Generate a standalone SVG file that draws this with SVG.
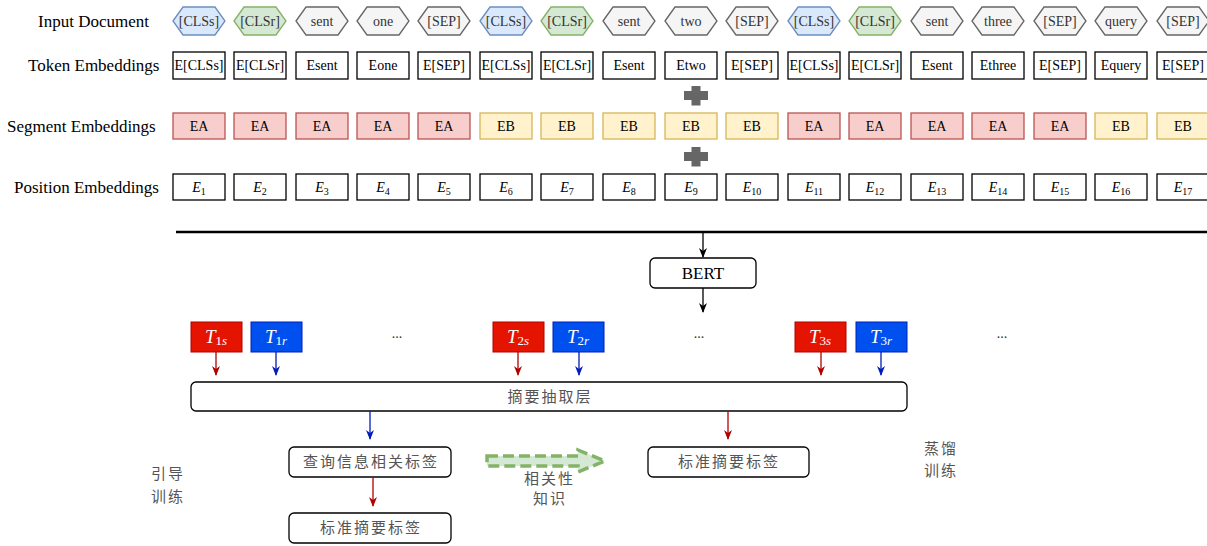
<svg xmlns="http://www.w3.org/2000/svg" width="1207" height="546" viewBox="0 0 1207 546">
<style>
.lbl{font-family:"Liberation Serif","Times New Roman",serif;font-size:17px;fill:#000}
.tx{font-family:"Liberation Serif","Times New Roman",serif;font-size:14px;fill:#000;text-anchor:middle}
.hx{font-family:"Liberation Serif","Times New Roman",serif;font-size:14px;fill:#333;text-anchor:middle}
.hs{fill:#dae8fc;stroke:#6c8ebf;stroke-width:1.3}
.hr{fill:#d5e8d4;stroke:#82b366;stroke-width:1.3}
.hg{fill:#f5f5f5;stroke:#666;stroke-width:1.3}
.tk{fill:#fff;stroke:#000;stroke-width:1.3}
.ea{fill:#f8cecc;stroke:#b85450;stroke-width:1.3}
.eb{fill:#fff2cc;stroke:#d6b656;stroke-width:1.3}
.rb{fill:#fff;stroke:#000;stroke-width:1.3}
.ts{fill:#e51400;stroke:#b20000;stroke-width:1}
.tr{fill:#0050ef;stroke:#001dbc;stroke-width:1}
.tt{font-family:"Liberation Serif","Times New Roman",serif;font-size:19px;fill:#fff;text-anchor:middle;font-style:italic}
.cn{font-family:"Noto Sans CJK SC","Noto Sans",sans-serif;font-size:15px;fill:#555;letter-spacing:2px}
.dots{font-family:"Liberation Serif",serif;font-size:14px;fill:#333;text-anchor:middle}
.plus{fill:#666}
</style>
<defs>
<marker id="ak" viewBox="0 0 10 10" refX="9" refY="5" markerWidth="10" markerHeight="10" markerUnits="userSpaceOnUse" orient="auto"><path d="M0,1 L10,5 L0,9 L3,5 Z" fill="#000"/></marker>
<marker id="ar" viewBox="0 0 10 10" refX="9" refY="5" markerWidth="10" markerHeight="10" markerUnits="userSpaceOnUse" orient="auto"><path d="M0,1 L10,5 L0,9 L3,5 Z" fill="#b20000"/></marker>
<marker id="ab" viewBox="0 0 10 10" refX="9" refY="5" markerWidth="10" markerHeight="10" markerUnits="userSpaceOnUse" orient="auto"><path d="M0,1 L10,5 L0,9 L3,5 Z" fill="#001dbc"/></marker>
</defs>

<g id="row-labels">
<text class="lbl" x="38" y="27">Input Document</text>
<text class="lbl" x="28" y="71">Token Embeddings</text>
<text class="lbl" x="7" y="132">Segment Embeddings</text>
<text class="lbl" x="14" y="193">Position Embeddings</text>
</g>

<g id="input-tokens">
<g id="in1"><polygon class="hs" points="173,21 183,7 215,7 225,21 215,35 183,35"/><text class="hx" x="199" y="26">[CLSs]</text></g>
<g id="in2"><polygon class="hr" points="234,21 244,7 276,7 286,21 276,35 244,35"/><text class="hx" x="260" y="26">[CLSr]</text></g>
<g id="in3"><polygon class="hg" points="296,21 306,7 338,7 348,21 338,35 306,35"/><text class="hx" x="322" y="26">sent</text></g>
<g id="in4"><polygon class="hg" points="357,21 367,7 399,7 409,21 399,35 367,35"/><text class="hx" x="383" y="26">one</text></g>
<g id="in5"><polygon class="hg" points="418,21 428,7 460,7 470,21 460,35 428,35"/><text class="hx" x="444" y="26">[SEP]</text></g>
<g id="in6"><polygon class="hs" points="480,21 490,7 522,7 532,21 522,35 490,35"/><text class="hx" x="506" y="26">[CLSs]</text></g>
<g id="in7"><polygon class="hr" points="541,21 551,7 583,7 593,21 583,35 551,35"/><text class="hx" x="567" y="26">[CLSr]</text></g>
<g id="in8"><polygon class="hg" points="603,21 613,7 645,7 655,21 645,35 613,35"/><text class="hx" x="629" y="26">sent</text></g>
<g id="in9"><polygon class="hg" points="665,21 675,7 707,7 717,21 707,35 675,35"/><text class="hx" x="691" y="26">two</text></g>
<g id="in10"><polygon class="hg" points="726,21 736,7 768,7 778,21 768,35 736,35"/><text class="hx" x="752" y="26">[SEP]</text></g>
<g id="in11"><polygon class="hs" points="788,21 798,7 830,7 840,21 830,35 798,35"/><text class="hx" x="814" y="26">[CLSs]</text></g>
<g id="in12"><polygon class="hr" points="849,21 859,7 891,7 901,21 891,35 859,35"/><text class="hx" x="875" y="26">[CLSr]</text></g>
<g id="in13"><polygon class="hg" points="911,21 921,7 953,7 963,21 953,35 921,35"/><text class="hx" x="937" y="26">sent</text></g>
<g id="in14"><polygon class="hg" points="972,21 982,7 1014,7 1024,21 1014,35 982,35"/><text class="hx" x="998" y="26">three</text></g>
<g id="in15"><polygon class="hg" points="1034,21 1044,7 1076,7 1086,21 1076,35 1044,35"/><text class="hx" x="1060" y="26">[SEP]</text></g>
<g id="in16"><polygon class="hg" points="1095,21 1105,7 1137,7 1147,21 1137,35 1105,35"/><text class="hx" x="1121" y="26">query</text></g>
<g id="in17"><polygon class="hg" points="1157,21 1167,7 1199,7 1209,21 1199,35 1167,35"/><text class="hx" x="1183" y="26">[SEP]</text></g>
</g>

<g id="token-embeddings">
<g id="tk1"><rect class="tk" x="173" y="52" width="52" height="27"/><text class="tx" x="199" y="70">E[CLSs]</text></g>
<g id="tk2"><rect class="tk" x="234" y="52" width="52" height="27"/><text class="tx" x="260" y="70">E[CLSr]</text></g>
<g id="tk3"><rect class="tk" x="296" y="52" width="52" height="27"/><text class="tx" x="322" y="70">Esent</text></g>
<g id="tk4"><rect class="tk" x="357" y="52" width="52" height="27"/><text class="tx" x="383" y="70">Eone</text></g>
<g id="tk5"><rect class="tk" x="418" y="52" width="52" height="27"/><text class="tx" x="444" y="70">E[SEP]</text></g>
<g id="tk6"><rect class="tk" x="480" y="52" width="52" height="27"/><text class="tx" x="506" y="70">E[CLSs]</text></g>
<g id="tk7"><rect class="tk" x="541" y="52" width="52" height="27"/><text class="tx" x="567" y="70">E[CLSr]</text></g>
<g id="tk8"><rect class="tk" x="603" y="52" width="52" height="27"/><text class="tx" x="629" y="70">Esent</text></g>
<g id="tk9"><rect class="tk" x="665" y="52" width="52" height="27"/><text class="tx" x="691" y="70">Etwo</text></g>
<g id="tk10"><rect class="tk" x="726" y="52" width="52" height="27"/><text class="tx" x="752" y="70">E[SEP]</text></g>
<g id="tk11"><rect class="tk" x="788" y="52" width="52" height="27"/><text class="tx" x="814" y="70">E[CLSs]</text></g>
<g id="tk12"><rect class="tk" x="849" y="52" width="52" height="27"/><text class="tx" x="875" y="70">E[CLSr]</text></g>
<g id="tk13"><rect class="tk" x="911" y="52" width="52" height="27"/><text class="tx" x="937" y="70">Esent</text></g>
<g id="tk14"><rect class="tk" x="972" y="52" width="52" height="27"/><text class="tx" x="998" y="70">Ethree</text></g>
<g id="tk15"><rect class="tk" x="1034" y="52" width="52" height="27"/><text class="tx" x="1060" y="70">E[SEP]</text></g>
<g id="tk16"><rect class="tk" x="1095" y="52" width="52" height="27"/><text class="tx" x="1121" y="70">Equery</text></g>
<g id="tk17"><rect class="tk" x="1157" y="52" width="52" height="27"/><text class="tx" x="1183" y="70">E[SEP]</text></g>
</g>

<g id="plus1"><path class="plus" d="M691.5,86 h9 v5 h7.5 v9 h-7.5 v5.5 h-9 v-5.5 h-7.5 v-9 h7.5 z"/></g>

<g id="segment-embeddings">
<g id="sg1"><rect class="ea" x="173" y="113" width="52" height="26"/><text class="tx" x="199" y="131">EA</text></g>
<g id="sg2"><rect class="ea" x="234" y="113" width="52" height="26"/><text class="tx" x="260" y="131">EA</text></g>
<g id="sg3"><rect class="ea" x="296" y="113" width="52" height="26"/><text class="tx" x="322" y="131">EA</text></g>
<g id="sg4"><rect class="ea" x="357" y="113" width="52" height="26"/><text class="tx" x="383" y="131">EA</text></g>
<g id="sg5"><rect class="ea" x="418" y="113" width="52" height="26"/><text class="tx" x="444" y="131">EA</text></g>
<g id="sg6"><rect class="eb" x="480" y="113" width="52" height="26"/><text class="tx" x="506" y="131">EB</text></g>
<g id="sg7"><rect class="eb" x="541" y="113" width="52" height="26"/><text class="tx" x="567" y="131">EB</text></g>
<g id="sg8"><rect class="eb" x="603" y="113" width="52" height="26"/><text class="tx" x="629" y="131">EB</text></g>
<g id="sg9"><rect class="eb" x="665" y="113" width="52" height="26"/><text class="tx" x="691" y="131">EB</text></g>
<g id="sg10"><rect class="eb" x="726" y="113" width="52" height="26"/><text class="tx" x="752" y="131">EB</text></g>
<g id="sg11"><rect class="ea" x="788" y="113" width="52" height="26"/><text class="tx" x="814" y="131">EA</text></g>
<g id="sg12"><rect class="ea" x="849" y="113" width="52" height="26"/><text class="tx" x="875" y="131">EA</text></g>
<g id="sg13"><rect class="ea" x="911" y="113" width="52" height="26"/><text class="tx" x="937" y="131">EA</text></g>
<g id="sg14"><rect class="ea" x="972" y="113" width="52" height="26"/><text class="tx" x="998" y="131">EA</text></g>
<g id="sg15"><rect class="ea" x="1034" y="113" width="52" height="26"/><text class="tx" x="1060" y="131">EA</text></g>
<g id="sg16"><rect class="eb" x="1095" y="113" width="52" height="26"/><text class="tx" x="1121" y="131">EB</text></g>
<g id="sg17"><rect class="eb" x="1157" y="113" width="52" height="26"/><text class="tx" x="1183" y="131">EB</text></g>
</g>

<g id="plus2"><path class="plus" d="M691.5,147 h9 v5 h7.5 v9 h-7.5 v5.5 h-9 v-5.5 h-7.5 v-9 h7.5 z"/></g>

<g id="position-embeddings">
<g id="ps1"><rect class="tk" x="173" y="174" width="52" height="26"/><text class="tx" x="199" y="192"><tspan font-style="italic">E</tspan><tspan font-size="10" dy="3">1</tspan></text></g>
<g id="ps2"><rect class="tk" x="234" y="174" width="52" height="26"/><text class="tx" x="260" y="192"><tspan font-style="italic">E</tspan><tspan font-size="10" dy="3">2</tspan></text></g>
<g id="ps3"><rect class="tk" x="296" y="174" width="52" height="26"/><text class="tx" x="322" y="192"><tspan font-style="italic">E</tspan><tspan font-size="10" dy="3">3</tspan></text></g>
<g id="ps4"><rect class="tk" x="357" y="174" width="52" height="26"/><text class="tx" x="383" y="192"><tspan font-style="italic">E</tspan><tspan font-size="10" dy="3">4</tspan></text></g>
<g id="ps5"><rect class="tk" x="418" y="174" width="52" height="26"/><text class="tx" x="444" y="192"><tspan font-style="italic">E</tspan><tspan font-size="10" dy="3">5</tspan></text></g>
<g id="ps6"><rect class="tk" x="480" y="174" width="52" height="26"/><text class="tx" x="506" y="192"><tspan font-style="italic">E</tspan><tspan font-size="10" dy="3">6</tspan></text></g>
<g id="ps7"><rect class="tk" x="541" y="174" width="52" height="26"/><text class="tx" x="567" y="192"><tspan font-style="italic">E</tspan><tspan font-size="10" dy="3">7</tspan></text></g>
<g id="ps8"><rect class="tk" x="603" y="174" width="52" height="26"/><text class="tx" x="629" y="192"><tspan font-style="italic">E</tspan><tspan font-size="10" dy="3">8</tspan></text></g>
<g id="ps9"><rect class="tk" x="665" y="174" width="52" height="26"/><text class="tx" x="691" y="192"><tspan font-style="italic">E</tspan><tspan font-size="10" dy="3">9</tspan></text></g>
<g id="ps10"><rect class="tk" x="726" y="174" width="52" height="26"/><text class="tx" x="752" y="192"><tspan font-style="italic">E</tspan><tspan font-size="10" dy="3">10</tspan></text></g>
<g id="ps11"><rect class="tk" x="788" y="174" width="52" height="26"/><text class="tx" x="814" y="192"><tspan font-style="italic">E</tspan><tspan font-size="10" dy="3">11</tspan></text></g>
<g id="ps12"><rect class="tk" x="849" y="174" width="52" height="26"/><text class="tx" x="875" y="192"><tspan font-style="italic">E</tspan><tspan font-size="10" dy="3">12</tspan></text></g>
<g id="ps13"><rect class="tk" x="911" y="174" width="52" height="26"/><text class="tx" x="937" y="192"><tspan font-style="italic">E</tspan><tspan font-size="10" dy="3">13</tspan></text></g>
<g id="ps14"><rect class="tk" x="972" y="174" width="52" height="26"/><text class="tx" x="998" y="192"><tspan font-style="italic">E</tspan><tspan font-size="10" dy="3">14</tspan></text></g>
<g id="ps15"><rect class="tk" x="1034" y="174" width="52" height="26"/><text class="tx" x="1060" y="192"><tspan font-style="italic">E</tspan><tspan font-size="10" dy="3">15</tspan></text></g>
<g id="ps16"><rect class="tk" x="1095" y="174" width="52" height="26"/><text class="tx" x="1121" y="192"><tspan font-style="italic">E</tspan><tspan font-size="10" dy="3">16</tspan></text></g>
<g id="ps17"><rect class="tk" x="1157" y="174" width="52" height="26"/><text class="tx" x="1183" y="192"><tspan font-style="italic">E</tspan><tspan font-size="10" dy="3">17</tspan></text></g>
</g>

<g id="separator"><line x1="176" y1="232" x2="1207" y2="232" stroke="#000" stroke-width="2.5"/></g>

<g id="bert"><rect class="rb" x="650" y="258" width="106" height="30" rx="5"/><text class="lbl" x="703" y="279" text-anchor="middle">BERT</text></g>

<g id="T1s"><rect class="ts" x="191" y="322" width="51" height="30"/><text class="tt" x="216" y="343">T<tspan font-size="13" font-style="normal" dy="2">1</tspan><tspan font-size="13" dy="0">s</tspan></text></g>
<g id="T1r"><rect class="tr" x="251" y="322" width="51" height="30"/><text class="tt" x="276" y="343">T<tspan font-size="13" font-style="normal" dy="2">1</tspan><tspan font-size="13" dy="0">r</tspan></text></g>
<g id="dots1"><text class="dots" x="397" y="338">...</text></g>
<g id="T2s"><rect class="ts" x="493" y="322" width="51" height="30"/><text class="tt" x="518" y="343">T<tspan font-size="13" font-style="normal" dy="2">2</tspan><tspan font-size="13" dy="0">s</tspan></text></g>
<g id="T2r"><rect class="tr" x="553" y="322" width="51" height="30"/><text class="tt" x="578" y="343">T<tspan font-size="13" font-style="normal" dy="2">2</tspan><tspan font-size="13" dy="0">r</tspan></text></g>
<g id="dots2"><text class="dots" x="699" y="338">...</text></g>
<g id="T3s"><rect class="ts" x="795" y="322" width="51" height="30"/><text class="tt" x="820" y="343">T<tspan font-size="13" font-style="normal" dy="2">3</tspan><tspan font-size="13" dy="0">s</tspan></text></g>
<g id="T3r"><rect class="tr" x="856" y="322" width="51" height="30"/><text class="tt" x="881" y="343">T<tspan font-size="13" font-style="normal" dy="2">3</tspan><tspan font-size="13" dy="0">r</tspan></text></g>
<g id="dots3"><text class="dots" x="1002" y="338">...</text></g>

<g id="extract-layer"><rect class="rb" x="191" y="382" width="716" height="29" rx="5"/><text class="cn" x="550" y="402" text-anchor="middle">摘要抽取层</text></g>

<g id="query-label"><rect class="rb" x="289" y="447" width="162" height="30" rx="5"/><text class="cn" x="371" y="467" text-anchor="middle">查询信息相关标签</text></g>
<g id="std-label-left"><rect class="rb" x="289" y="513" width="162" height="30" rx="5"/><text class="cn" x="371" y="533" text-anchor="middle">标准摘要标签</text></g>
<g id="std-label-right"><rect class="rb" x="648" y="447" width="161" height="30" rx="5"/><text class="cn" x="729" y="467" text-anchor="middle">标准摘要标签</text></g>

<g id="guide-text"><text class="cn" x="151" y="479">引导</text><text class="cn" x="151" y="502">训练</text></g>
<g id="distill-text"><text class="cn" x="924" y="454">蒸馏</text><text class="cn" x="924" y="476">训练</text></g>
<g id="knowledge-text"><text class="cn" x="524" y="484">相关性</text><text class="cn" x="533" y="504">知识</text></g>

<g id="connectors" fill="none">
<line x1="703" y1="233" x2="703" y2="257" stroke="#000" stroke-width="1.3" marker-end="url(#ak)"/>
<line x1="703" y1="288" x2="703" y2="312" stroke="#000" stroke-width="1.3" marker-end="url(#ak)"/>
<line x1="216" y1="352" x2="216" y2="375" stroke="#b20000" stroke-width="1.3" marker-end="url(#ar)"/>
<line x1="276" y1="352" x2="276" y2="375" stroke="#001dbc" stroke-width="1.3" marker-end="url(#ab)"/>
<line x1="518" y1="352" x2="518" y2="375" stroke="#b20000" stroke-width="1.3" marker-end="url(#ar)"/>
<line x1="579" y1="352" x2="579" y2="375" stroke="#001dbc" stroke-width="1.3" marker-end="url(#ab)"/>
<line x1="821" y1="352" x2="821" y2="375" stroke="#b20000" stroke-width="1.3" marker-end="url(#ar)"/>
<line x1="881" y1="352" x2="881" y2="375" stroke="#001dbc" stroke-width="1.3" marker-end="url(#ab)"/>
<line x1="370" y1="411" x2="370" y2="439" stroke="#001dbc" stroke-width="1.3" marker-end="url(#ab)"/>
<line x1="373" y1="477" x2="373" y2="506" stroke="#b20000" stroke-width="1.3" marker-end="url(#ar)"/>
<line x1="728" y1="411" x2="728" y2="439" stroke="#b20000" stroke-width="1.3" marker-end="url(#ar)"/>
<path d="M487,456 L578,456 L578,450 L605,461 L578,472 L578,466 L487,466 Z" fill="#d5e8d4" stroke="#82b366" stroke-width="3.5" stroke-dasharray="11 5"/>
</g>
</svg>
